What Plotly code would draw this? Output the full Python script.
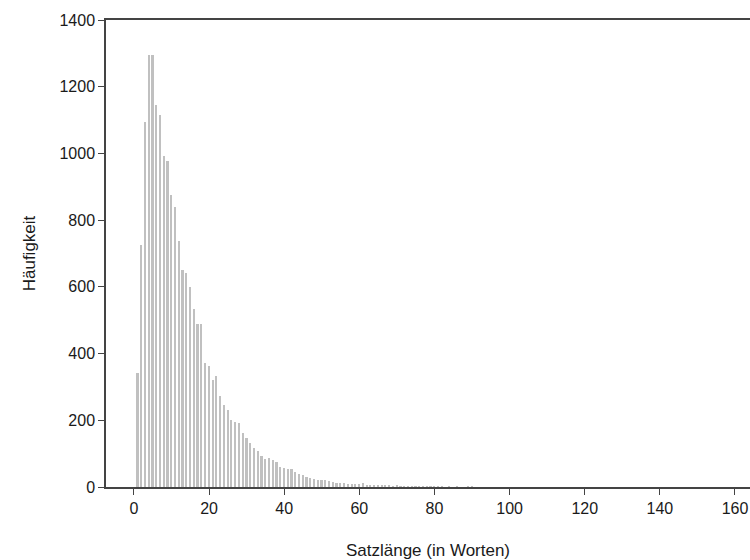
import plotly.graph_objects as go

# Sentence length (words) and frequency
lengths = list(range(1, 91))
freq = [
    343, 725, 1095, 1295, 1295, 1145, 1115, 992, 976, 875,
    840, 737, 650, 643, 600, 535, 490, 490, 373, 363,
    320, 332, 272, 245, 232, 200, 195, 193, 162, 148,
    132, 117, 108, 92, 83, 88, 80, 74, 60, 58,
    55, 53, 45, 40, 35, 30, 27, 25, 22, 22,
    20, 17, 15, 13, 12, 12, 10, 9, 8, 8,
    11, 7, 6, 6, 5, 5, 4, 4, 3, 4,
    3, 2, 2, 3, 2, 2, 1, 2, 1, 1,
    1, 1, 0, 1, 0, 1, 0, 0, 1, 1,
]
x_ticks = [0, 20, 40, 60, 80, 100, 120, 140, 160]
y_ticks = [0, 200, 400, 600, 800, 1000, 1200, 1400]

fig = go.Figure(go.Bar(
    x=lengths, y=freq, width=0.45,
    marker=dict(color="#c0c0c0", line=dict(width=0)),
))

font = "Liberation Sans, Arial, sans-serif"
axis_common = dict(
    showgrid=False, zeroline=False, showline=True, linecolor="#444444", linewidth=1.5,
    ticks="outside", ticklen=6, tickwidth=1.2, tickcolor="#444444",
    tickfont=dict(family=font, size=16, color="#1a1a1a"),
    ticklabeloverflow="allow", automargin=False,
)
fig.update_layout(
    width=750, height=560,
    margin=dict(l=106, r=0, t=20, b=73),
    plot_bgcolor="white", paper_bgcolor="white",
    showlegend=False, bargap=0,
    xaxis=dict(range=[-7.45, 164.0], tickvals=x_ticks, mirror=True,
               title=dict(text="Satzlänge (in Worten)", font=dict(family=font, size=17, color="#1a1a1a"), standoff=30),
               **axis_common),
    yaxis=dict(range=[0, 1400], tickvals=y_ticks,
               title=dict(text="Häufigkeit", font=dict(family=font, size=17, color="#1a1a1a"), standoff=20),
               **axis_common),
)
fig.write_html("out.html")
